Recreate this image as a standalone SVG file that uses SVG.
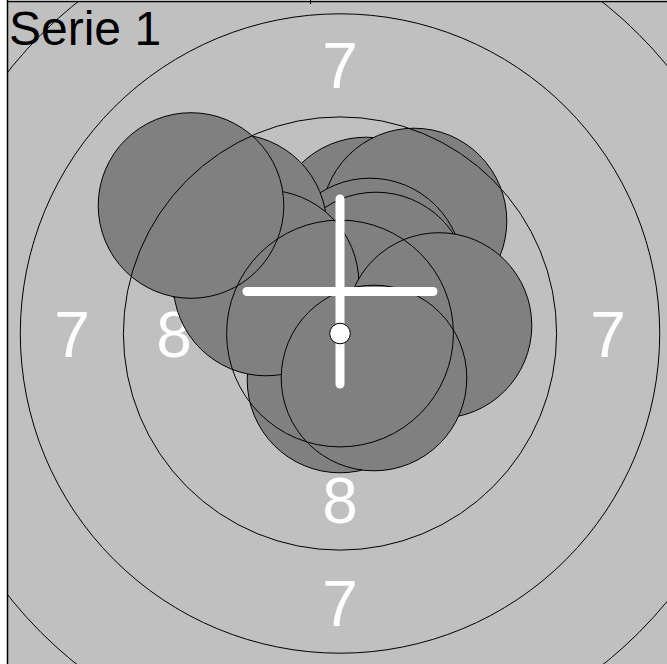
<svg xmlns="http://www.w3.org/2000/svg" width="667" height="664" viewBox="0 0 667 664">
<style>
.ring{fill:none;stroke:#000;stroke-width:1}
.shot{fill:#808080;stroke:#000;stroke-width:1}
.num{font-family:"Liberation Sans",Arial,sans-serif;font-size:64px;fill:#fff;text-anchor:middle}
.cross{stroke:#fff;stroke-width:9;stroke-linecap:round}
</style>
<defs>
<clipPath id="field"><rect x="8" y="2" width="659" height="662"/></clipPath>
</defs>
<rect x="0" y="0" width="667" height="664" fill="#fff"/>
<rect x="8" y="2" width="659" height="662" fill="#c0c0c0"/>
<g id="labels">
<text class="num" x="340" y="88">7</text>
<text class="num" x="72" y="357">7</text>
<text class="num" x="608" y="357">7</text>
<text class="num" x="340" y="626">7</text>
<text class="num" x="174" y="357">8</text>
<text class="num" x="340" y="523">8</text>
</g>
<g id="shots">
<circle id="shot-i" class="shot" cx="366" cy="230" r="92.8"/>
<circle id="shot-h" class="shot" cx="414" cy="221" r="92.8"/>
<circle id="shot-j" class="shot" cx="370" cy="271" r="92.8"/>
<circle id="shot-k" class="shot" cx="376" cy="285" r="92.8"/>
<circle id="shot-b" class="shot" cx="234" cy="227" r="92.8"/>
<circle id="shot-f" class="shot" cx="340" cy="380" r="92.8"/>
<circle id="shot-c" class="shot" cx="266" cy="283" r="92.8"/>
<circle id="shot-a" class="shot" cx="191" cy="205.5" r="92.8"/>
<circle id="shot-g" class="shot" cx="439" cy="325.5" r="92.8"/>
<circle id="shot-e" class="shot" cx="374" cy="378" r="92.8"/>
</g>
<g id="rings" clip-path="url(#field)">
<circle class="ring" cx="340" cy="333.5" r="422.8"/>
<circle class="ring" cx="340" cy="333.5" r="319.7"/>
<circle class="ring" cx="340" cy="333.5" r="216.6"/>
<circle class="ring" cx="340" cy="333.5" r="113.4"/>
</g>
<g id="crosshair">
<line class="cross" x1="340" y1="199" x2="340" y2="384"/>
<line class="cross" x1="247" y1="291.5" x2="433" y2="291.5"/>
</g>
<circle id="ten" cx="340" cy="333.5" r="10.3" fill="#fff" stroke="#000" stroke-width="1"/>
<g id="frame">
<line x1="7.5" y1="0" x2="7.5" y2="664" stroke="#000" stroke-width="1.5"/>
<line x1="7" y1="1.5" x2="667" y2="1.5" stroke="#000" stroke-width="1.5"/>
<line x1="310.5" y1="0" x2="310.5" y2="4" stroke="#000" stroke-width="1"/>
</g>
<text x="9" y="45" font-family="Liberation Sans, Arial, sans-serif" font-size="48" fill="#000">Serie 1</text>
</svg>
